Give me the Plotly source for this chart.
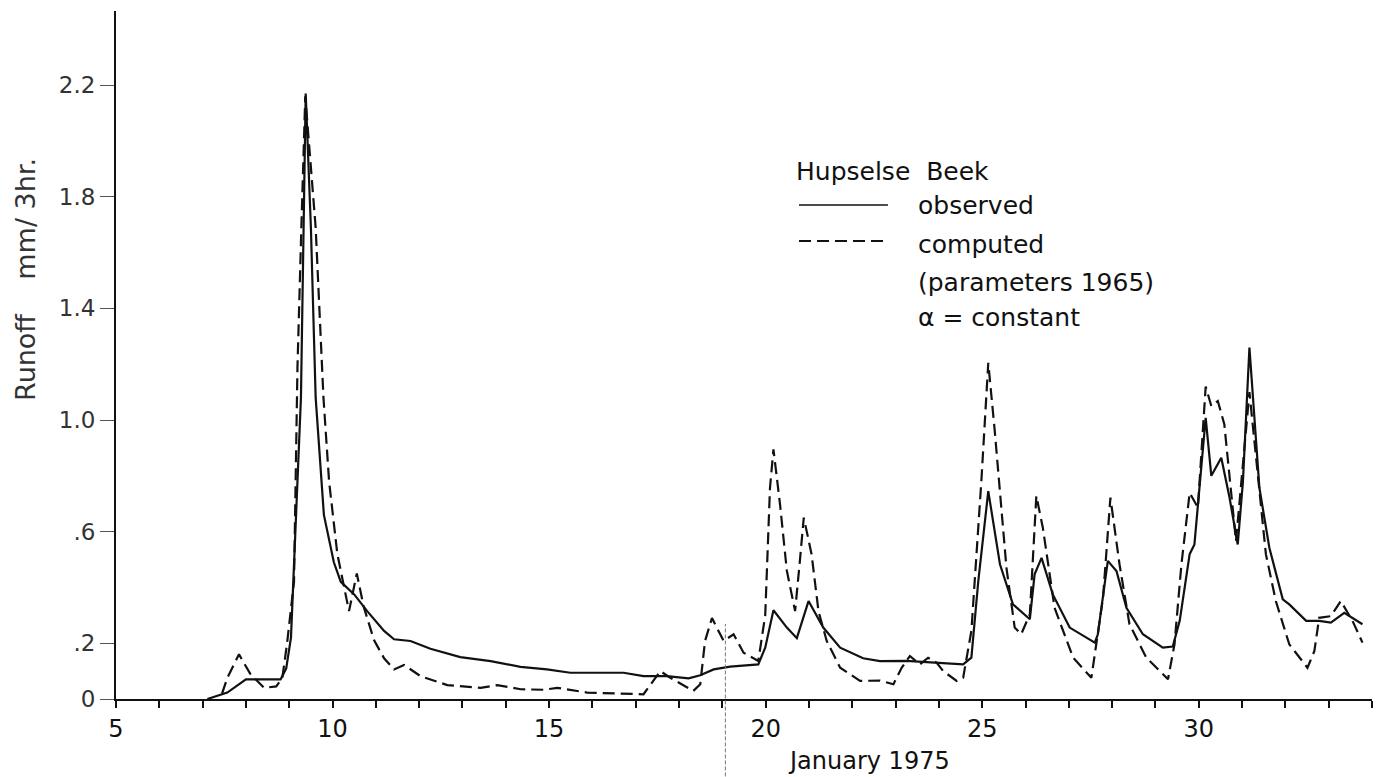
import plotly.graph_objects as go

# Hupselse Beek, January 1975 - runoff in mm / 3hr
obs_day = [7.11, 7.57, 8.0, 8.8, 8.93, 9.04, 9.27, 9.33, 9.38, 9.5, 9.61, 9.8, 10.03, 10.19,
           10.5, 10.8, 11.19, 11.42, 11.8, 12.26, 12.95, 13.65, 14.34, 14.95, 15.49, 16.1,
           16.72, 17.18, 17.72, 18.22, 18.49, 18.8, 19.18, 19.83, 19.99, 20.18, 20.49, 20.72,
           20.99, 21.33, 21.72, 22.25, 22.64, 23.25, 24.02, 24.56, 24.75, 24.91, 25.14, 25.41,
           25.71, 26.1, 26.21, 26.37, 26.63, 27.02, 27.6, 27.67, 27.9, 28.1, 28.33, 28.71,
           29.17, 29.4, 29.56, 29.79, 29.9, 30.02, 30.16, 30.29, 30.52, 30.71, 30.9, 31.02,
           31.17, 31.4, 31.63, 31.94, 32.09, 32.48, 32.78, 33.05, 33.36, 33.78]
obs_runoff = [0.0, 0.023, 0.07, 0.07, 0.11, 0.22, 1.08, 1.69, 2.17, 1.69, 1.08, 0.66, 0.49, 0.42,
              0.375, 0.315, 0.244, 0.214, 0.208, 0.18, 0.15, 0.136, 0.115, 0.106, 0.094, 0.094,
              0.094, 0.082, 0.082, 0.074, 0.085, 0.106, 0.116, 0.124, 0.184, 0.318, 0.256, 0.218,
              0.351, 0.256, 0.184, 0.146, 0.136, 0.137, 0.13, 0.124, 0.148, 0.423, 0.745, 0.483,
              0.339, 0.286, 0.447, 0.506, 0.375, 0.256, 0.202, 0.232, 0.495, 0.459, 0.327, 0.232,
              0.184, 0.188, 0.28, 0.519, 0.554, 0.757, 1.008, 0.8, 0.865, 0.722, 0.554, 0.78,
              1.26, 0.757, 0.542, 0.357, 0.339, 0.28, 0.28, 0.274, 0.309, 0.268]

comp_day = [7.45, 7.57, 7.84, 8.1, 8.42, 8.7, 8.84, 8.95, 9.11, 9.19, 9.28, 9.37, 9.61, 9.79,
            9.92, 10.11, 10.38, 10.56, 10.72, 10.96, 11.19, 11.42, 11.65, 12.03, 12.65, 13.42,
            13.8, 14.34, 14.88, 15.19, 15.88, 17.18, 17.57, 17.8, 18.33, 18.49, 18.6, 18.76,
            19.03, 19.26, 19.49, 19.83, 19.99, 20.1, 20.18, 20.33, 20.49, 20.68, 20.79, 20.88,
            21.06, 21.22, 21.41, 21.72, 22.18, 22.64, 22.95, 23.14, 23.33, 23.56, 23.75, 23.95,
            24.1, 24.41, 24.56, 24.75, 24.98, 25.14, 25.29, 25.56, 25.75, 25.9, 26.1, 26.25,
            26.4, 26.67, 27.1, 27.52, 27.79, 27.96, 28.17, 28.4, 28.79, 29.29, 29.44, 29.6,
            29.79, 29.98, 30.16, 30.29, 30.44, 30.59, 30.86, 31.17, 31.55, 31.78, 32.09, 32.51,
            32.67, 32.78, 33.05, 33.28, 33.55, 33.78]
comp_runoff = [0.02, 0.076, 0.16, 0.09, 0.04, 0.045, 0.075, 0.2, 0.42, 1.19, 1.69, 2.16, 1.69, 1.08,
               0.78, 0.52, 0.315, 0.45, 0.33, 0.21, 0.146, 0.106, 0.122, 0.082, 0.05, 0.04,
               0.05, 0.035, 0.033, 0.04, 0.023, 0.017, 0.1, 0.076, 0.029, 0.053, 0.208, 0.29,
               0.208, 0.232, 0.166, 0.136, 0.3, 0.757, 0.895, 0.7, 0.459, 0.315, 0.495, 0.65,
               0.519, 0.315, 0.208, 0.112, 0.065, 0.066, 0.053, 0.112, 0.154, 0.124, 0.148, 0.13,
               0.1, 0.065, 0.076, 0.244, 0.78, 1.205, 0.96, 0.47, 0.256, 0.232, 0.304, 0.728,
               0.614, 0.327, 0.148, 0.076, 0.363, 0.722, 0.483, 0.268, 0.148, 0.071, 0.196, 0.483,
               0.739, 0.686, 1.12, 1.05, 1.068, 0.985, 0.566, 1.1, 0.519, 0.351, 0.196, 0.112,
               0.172, 0.291, 0.297, 0.351, 0.28, 0.202]

x_ticks = list(range(5, 35))
x_tick_text = [str(d) if d % 5 == 0 and d <= 30 else "" for d in x_ticks]
y_ticks = [0, 0.2, 0.6, 1.0, 1.4, 1.8, 2.2]
y_tick_text = ["0", ".2", ".6", "1.0", "1.4", "1.8", "2.2"]

FONT = "DejaVu Sans"
INK = "#111111"

fig = go.Figure()

fig.add_trace(
    go.Scatter(x=obs_day, y=obs_runoff, mode="lines",
               line=dict(color=INK, width=2.2), showlegend=False)
)
fig.add_trace(
    go.Scatter(x=comp_day, y=comp_runoff, mode="lines",
               line=dict(color=INK, width=2.2, dash="12px,6px"), showlegend=False)
)

# legend drawn by hand, as in the original figure
legend_x = 0.5438
text_x = 0.6409
fig.add_shape(type="line", xref="paper", yref="paper", x0=legend_x, x1=0.6146,
              y0=0.718, y1=0.718, line=dict(color=INK, width=1.5))
fig.add_shape(type="line", xref="paper", yref="paper", x0=legend_x, x1=0.6146,
              y0=0.6657, y1=0.6657, line=dict(color=INK, width=2, dash="12px,6px"))

notes = [
    ("Hupselse  Beek", legend_x - 0.004, 0.7674),
    ("observed", text_x - 0.004, 0.7166),
    ("computed", text_x - 0.004, 0.661),
    ("(parameters 1965)", text_x - 0.004, 0.606),
    ("α = constant", text_x - 0.004, 0.555),
]
for txt, xp, yp in notes:
    fig.add_annotation(text=txt, x=xp, y=yp, xref="paper", yref="paper",
                       xanchor="left", yanchor="middle", showarrow=False,
                       font=dict(family=FONT, size=25, color=INK))

fig.add_annotation(text="January 1975", x=0.5334, y=-0.0901, xref="paper", yref="paper",
                   xanchor="left", yanchor="middle", showarrow=False,
                   font=dict(family=FONT, size=24, color=INK))
fig.add_annotation(text="Runoff    mm/ 3hr.", x=-0.0717, y=0.6105, xref="paper", yref="paper",
                   textangle=-90, xanchor="center", yanchor="middle", showarrow=False,
                   font=dict(family=FONT, size=27, color="#333333"))

# thin crease line in the scan
fig.add_shape(type="line", xref="x", yref="paper", x0=19.07, x1=19.07, y0=-0.13, y1=0.109,
              line=dict(color="#777777", width=1, dash="4px,2px"))

fig.update_xaxes(
    range=[5, 34], tickvals=x_ticks, ticktext=x_tick_text, ticks="outside",
    ticklen=7, tickwidth=1.5, tickcolor=INK, showline=True, linecolor=INK, linewidth=2,
    showgrid=False, zeroline=False,
    tickfont=dict(family=FONT, size=24, color=INK),
)
fig.update_yaxes(
    range=[0, 2.466], tickvals=y_ticks, ticktext=y_tick_text, ticks="outside",
    ticklen=14, tickwidth=1, tickcolor="#555555", showline=True, linecolor=INK, linewidth=2,
    showgrid=False, zeroline=False,
    tickfont=dict(family=FONT, size=23, color="#333333"),
)

# page adds ~7px offset, so margins are shifted to keep the plot area in place
fig.update_layout(
    width=1386, height=777,
    margin=dict(l=108, r=22, t=3, b=86),
    paper_bgcolor="white", plot_bgcolor="white",
)

fig.write_html("out.html")
